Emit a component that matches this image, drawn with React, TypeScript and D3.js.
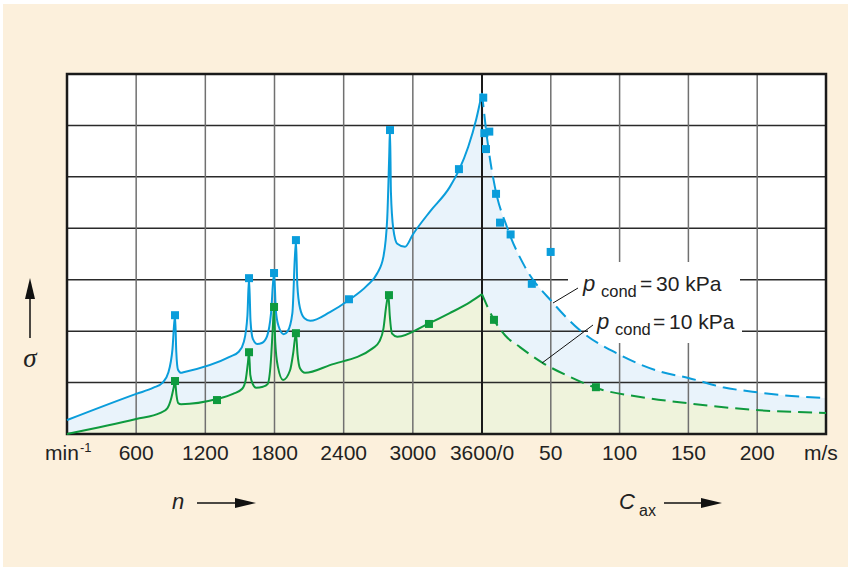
import React from "react";
import * as d3 from "d3";

// ---- data (n in min^-1 for left part, c_ax in m/s for right part, sigma in grid units) ----
const nGrid = [0, 600, 1200, 1800, 2400, 3000, 3600];
const cGrid = [50, 100, 150, 200, 250];
const sigmaGrid = [1, 2, 3, 4, 5, 6];
const nTicks = [600, 1200, 1800, 2400, 3000];
const cTicks = [50, 100, 150, 200];

const blueSolid: [number, number][] = [
  [0, 0.27], [600, 0.78], [750, 0.9], [830, 1.0], [880, 1.2], [915, 1.65], [937, 2.31],
  [948, 1.6], [963, 1.25], [990, 1.19], [1010, 1.2], [1410, 1.5], [1490, 1.6], [1535, 1.8],
  [1565, 2.3], [1579, 3.03], [1592, 2.2], [1612, 1.85], [1650, 1.75], [1690, 1.77],
  [1735, 1.9], [1770, 2.35], [1796, 3.13], [1812, 2.4], [1835, 2.1], [1880, 1.94],
  [1915, 2.0], [1955, 2.35], [1986, 3.77], [1998, 2.9], [2021, 2.45], [2060, 2.25],
  [2110, 2.2], [2281, 2.37], [2455, 2.62], [2600, 2.88], [2690, 3.12], [2745, 3.45],
  [2778, 4.2], [2795, 5.4], [2802, 5.93], [2810, 4.7], [2830, 4.0], [2865, 3.7],
  [2932, 3.64], [3000, 3.88], [3150, 4.33], [3320, 4.8], [3400, 5.13], [3480, 5.58],
  [3550, 6.12], [3600, 6.63],
];
const blueDashed: [number, number][] = [
  [0, 6.63], [3.6, 5.77], [9.4, 4.8], [18.2, 4.02], [31.2, 3.25], [51.6, 2.55], [71, 2.02],
  [100, 1.54], [130, 1.21], [150, 1.09], [175, 0.91], [200, 0.81], [225, 0.74], [250, 0.7],
];
const greenSolid: [number, number][] = [
  [0, 0], [600, 0.29], [810, 0.41], [870, 0.5], [905, 0.7], [925, 0.9], [937, 1.03],
  [950, 0.75], [965, 0.6], [990, 0.58], [1300, 0.68], [1440, 0.78], [1520, 0.88],
  [1550, 1.05], [1570, 1.4], [1579, 1.59], [1590, 1.15], [1610, 0.98], [1640, 0.9],
  [1700, 0.92], [1740, 0.97], [1768, 1.4], [1786, 2.1], [1796, 2.47], [1806, 1.8],
  [1830, 1.3], [1874, 1.05], [1935, 1.24], [1962, 1.57], [1986, 1.96], [2000, 1.55],
  [2021, 1.28], [2065, 1.19], [2280, 1.34], [2654, 1.67], [2710, 1.8], [2745, 2.05],
  [2770, 2.5], [2788, 2.7], [2800, 2.3], [2820, 1.95], [2865, 1.89], [3130, 2.14],
  [3320, 2.35], [3500, 2.57], [3600, 2.72],
];
const greenDashed: [number, number][] = [
  [0, 2.72], [8.7, 2.22], [16.7, 1.92], [27.6, 1.69], [44.3, 1.38], [64, 1.11],
  [83.6, 0.89], [115, 0.72], [149, 0.6], [197, 0.47], [250, 0.41],
];
const blueMarkersN: [number, number][] = [
  [937, 2.31], [1579, 3.03], [1796, 3.13], [1986, 3.77], [2446, 2.62], [2802, 5.91], [3400, 5.15],
];
const blueMarkersC: [number, number][] = [
  [0.9, 6.54], [1.7, 5.85], [5.3, 5.88], [2.9, 5.54], [10.2, 4.67], [13.1, 4.11],
  [20.8, 3.88], [49.9, 3.54], [36.2, 2.92],
];
const greenMarkersN: [number, number][] = [
  [937, 1.03], [1301, 0.66], [1579, 1.59], [1796, 2.47], [1986, 1.96], [2793, 2.7], [3140, 2.14],
];
const greenMarkersC: [number, number][] = [[8.7, 2.22], [82.8, 0.91]];

const BLUE = "#0a9ddb";
const GREEN = "#0e9a3e";
const FONT = "'Liberation Sans', Arial, Helvetica, sans-serif";

export default function App() {
  const x0 = 67, x1 = 482, x2 = 826, yTop = 74, yBot = 434;
  const nX = d3.scaleLinear().domain([0, 3600]).range([x0, x1]);
  const cX = d3.scaleLinear().domain([0, 250]).range([x1, x2]);
  const yS = d3.scaleLinear().domain([0, 7]).range([yBot, yTop]);

  const px = (pts: [number, number][], sx: any) =>
    pts.map(([a, b]) => [sx(a), yS(b)] as [number, number]);

  const bL = px(blueSolid, nX), bR = px(blueDashed, cX);
  const gL = px(greenSolid, nX), gR = px(greenDashed, cX);

  const line = d3.line().curve(d3.curveMonotoneX);
  const area = d3.area<[number, number]>().x((d) => d[0]).y0(yBot).y1((d) => d[1]).curve(d3.curveMonotoneX);
  const above = d3.area<[number, number]>().x((d) => d[0]).y0(yTop).y1((d) => d[1]).curve(d3.curveMonotoneX);

  const marker = (p: [number, number], sx: any, color: string, key: string) => (
    <rect key={key} x={sx(p[0]) - 4} y={yS(p[1]) - 4} width={8} height={8} fill={color} />
  );

  return (
    <svg width={848} height={567} style={{ position: "absolute", left: 0, top: 0 }} fontFamily={FONT}>
      <defs>
        <clipPath id="aboveBlue">
          <path d={above(bL) || ""} />
          <path d={above(bR) || ""} />
        </clipPath>
      </defs>
      <rect x={0} y={0} width={848} height={567} fill="#ffffff" />
      <rect x={3} y={4} width={845} height={563} fill="#fcf0dc" />
      <rect x={x0} y={yTop} width={x2 - x0} height={yBot - yTop} fill="#ffffff" />

      {/* fills */}
      <path d={area(bL) || ""} fill="#e9f3fb" />
      <path d={area(bR) || ""} fill="#e9f3fb" />
      <path d={area(gL) || ""} fill="#eff3dc" />
      <path d={area(gR) || ""} fill="#eff3dc" />

      {/* grid */}
      {sigmaGrid.map((s) => (
        <line key={"h" + s} x1={x0} x2={x2} y1={yS(s)} y2={yS(s)} stroke="#2a2a2a" strokeWidth={1.5} />
      ))}
      {nGrid.map((n) => (
        <line key={"vn" + n} x1={nX(n)} x2={nX(n)} y1={yTop} y2={yBot}
          stroke={n === 3600 ? "#1a1a1a" : "#707070"} strokeWidth={n === 3600 ? 2 : 1.5} />
      ))}
      {cGrid.map((c) => (
        <line key={"vc" + c} x1={cX(c)} x2={cX(c)} y1={yTop} y2={yBot} stroke="#707070" strokeWidth={1.5} />
      ))}

      {/* label backgrounds */}
      <g clipPath="url(#aboveBlue)">
        <rect x={568} y={262} width={172} height={40} fill="#ffffff" />
        <rect x={588} y={302} width={154} height={41} fill="#ffffff" />
      </g>

      {/* frame */}
      <rect x={x0} y={yTop} width={x2 - x0} height={yBot - yTop} fill="none" stroke="#1a1a1a" strokeWidth={2.5} />

      {/* curves */}
      <path d={line(bL) || ""} fill="none" stroke={BLUE} strokeWidth={2} />
      <path d={line(bR) || ""} fill="none" stroke={BLUE} strokeWidth={2} strokeDasharray="14,7" />
      <path d={line(gL) || ""} fill="none" stroke={GREEN} strokeWidth={2} />
      <path d={line(gR) || ""} fill="none" stroke={GREEN} strokeWidth={2} strokeDasharray="14,7" />

      {/* markers */}
      {blueMarkersN.map((p, i) => marker(p, nX, BLUE, "bn" + i))}
      {blueMarkersC.map((p, i) => marker(p, cX, BLUE, "bc" + i))}
      {greenMarkersN.map((p, i) => marker(p, nX, GREEN, "gn" + i))}
      {greenMarkersC.map((p, i) => marker(p, cX, GREEN, "gc" + i))}

      {/* legend labels */}
      <line x1={553} y1={303} x2={578} y2={288} stroke="#111" strokeWidth={1} />
      <line x1={542} y1={363} x2={593} y2={325} stroke="#111" strokeWidth={1} />
      <g fill="#222">
        <text x={583} y={291} fontSize={22} fontStyle="italic">p</text>
        <text x={601} y={297} fontSize={16.5}>cond</text>
        <text x={640} y={291} fontSize={21}>=</text>
        <text x={656} y={291} fontSize={21}>30 kPa</text>
        <text x={597} y={329} fontSize={22} fontStyle="italic">p</text>
        <text x={615} y={335} fontSize={16.5}>cond</text>
        <text x={653} y={329} fontSize={21}>=</text>
        <text x={669} y={329} fontSize={21}>10 kPa</text>
      </g>

      {/* tick labels */}
      <g fill="#222" fontSize={21} textAnchor="middle">
        {nTicks.map((n) => (
          <text key={"tn" + n} x={nX(n)} y={460}>{n}</text>
        ))}
        {cTicks.map((c) => (
          <text key={"tc" + c} x={cX(c)} y={460}>{c}</text>
        ))}
        <text x={nX(3600)} y={460}>3600/0</text>
      </g>
      <text x={45} y={460} fontSize={21} fill="#222">min</text>
      <text x={80} y={452} fontSize={13} fill="#222">-1</text>
      <text x={804} y={460} fontSize={21} fill="#222">m/s</text>

      {/* axis titles */}
      <text x={172} y={509} fontSize={22} fontStyle="italic" fill="#222">n</text>
      <line x1={197} y1={503} x2={240} y2={503} stroke="#111" strokeWidth={1.5} />
      <polygon points="235,498 256,503 235,508" fill="#111" />

      <text x={619} y={509} fontSize={22} fontStyle="italic" fill="#222">C</text>
      <text x={639} y={516} fontSize={16} fill="#222">ax</text>
      <line x1={664} y1={503} x2={706} y2={503} stroke="#111" strokeWidth={1.5} />
      <polygon points="701,498 722,503 701,508" fill="#111" />

      <line x1={30} y1={338} x2={30} y2={295} stroke="#111" strokeWidth={1.5} />
      <polygon points="25,299 30,278 35,299" fill="#111" />
      <text x={30} y={367} fontSize={27} fontStyle="italic" textAnchor="middle"
        fontFamily="'Liberation Serif', 'DejaVu Serif', serif" fill="#222">σ</text>
    </svg>
  );
}
